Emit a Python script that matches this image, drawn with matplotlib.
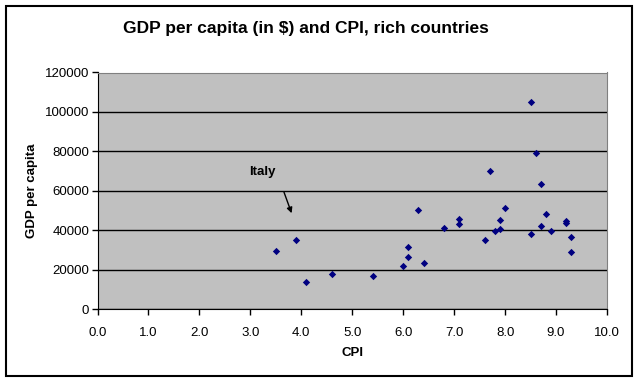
import matplotlib
matplotlib.use('Agg')
import matplotlib.pyplot as plt
import matplotlib.patches as mpatches

plt.rcParams['font.family'] = ['Liberation Sans', 'DejaVu Sans']

cpi = [3.5, 3.9, 4.1, 4.6, 5.4, 6.0, 6.1, 6.1, 6.4, 6.3,
       6.8, 7.1, 7.1, 7.6, 7.7, 7.8, 7.9, 7.9, 8.0, 8.5,
       8.5, 8.6, 8.7, 8.7, 8.8, 8.9, 9.2, 9.2, 9.3, 9.3]
gdp = [29300, 35000, 13700, 17700, 16700, 21600, 26200, 31300, 23300, 50200,
       41000, 45700, 43200, 34900, 69900, 39600, 45200, 40600, 51200, 105200,
       38100, 79400, 63600, 42200, 48100, 39600, 44400, 43400, 36600, 29100]
xticks = [0, 1, 2, 3, 4, 5, 6, 7, 8, 9, 10]
yticks = [0, 20000, 40000, 60000, 80000, 100000, 120000]

fig = plt.figure(figsize=(6.36, 3.81), dpi=100)
fig.patches.append(mpatches.Rectangle((6/636, 5/381), 626/636, 370/381, transform=fig.transFigure,
                                      fill=False, edgecolor='black', linewidth=1.5))
ax = fig.add_axes([97.5/636, 1-309/381, 509.5/636, 236.5/381])
ax.set_facecolor('#c0c0c0')
ax.scatter(cpi, gdp, marker='D', s=14, color='#000080', zorder=3, linewidths=0)
ax.set_xlim(0, 10); ax.set_ylim(0, 120000)
ax.set_xticks(xticks); ax.set_xticklabels([f'{v:.1f}' for v in xticks], fontsize=9.5)
ax.set_yticks(yticks); ax.set_yticklabels([str(v) for v in yticks], fontsize=9.5)
ax.yaxis.grid(True, color='black', linewidth=1); ax.set_axisbelow(True)
ax.tick_params(direction='out', length=4, width=1, color='black')
ax.tick_params(axis='x', pad=9); ax.tick_params(axis='y', pad=2)
for s in ['top', 'right']: ax.spines[s].set_color('#808080')
for s in ['left', 'bottom']: ax.spines[s].set_color('black')
ax.set_xlabel('CPI', fontsize=9.5, fontweight='bold', labelpad=6)
ax.set_ylabel('GDP per capita', fontsize=9.5, fontweight='bold', labelpad=5)
ax.text(2.97, 69500, 'Italy', fontsize=9.5, fontweight='bold', va='center', ha='left')
ax.annotate('', xy=(3.81, 48600), xytext=(3.66, 59300),
            arrowprops=dict(arrowstyle='-|>', color='black', lw=1, shrinkA=0, shrinkB=0,
                            mutation_scale=8))
fig.text(306/636, 1-28/381, 'GDP per capita (in $) and CPI, rich countries', ha='center', va='center',
         fontsize=12.5, fontweight='bold')
fig.savefig('out.png', dpi=100)
